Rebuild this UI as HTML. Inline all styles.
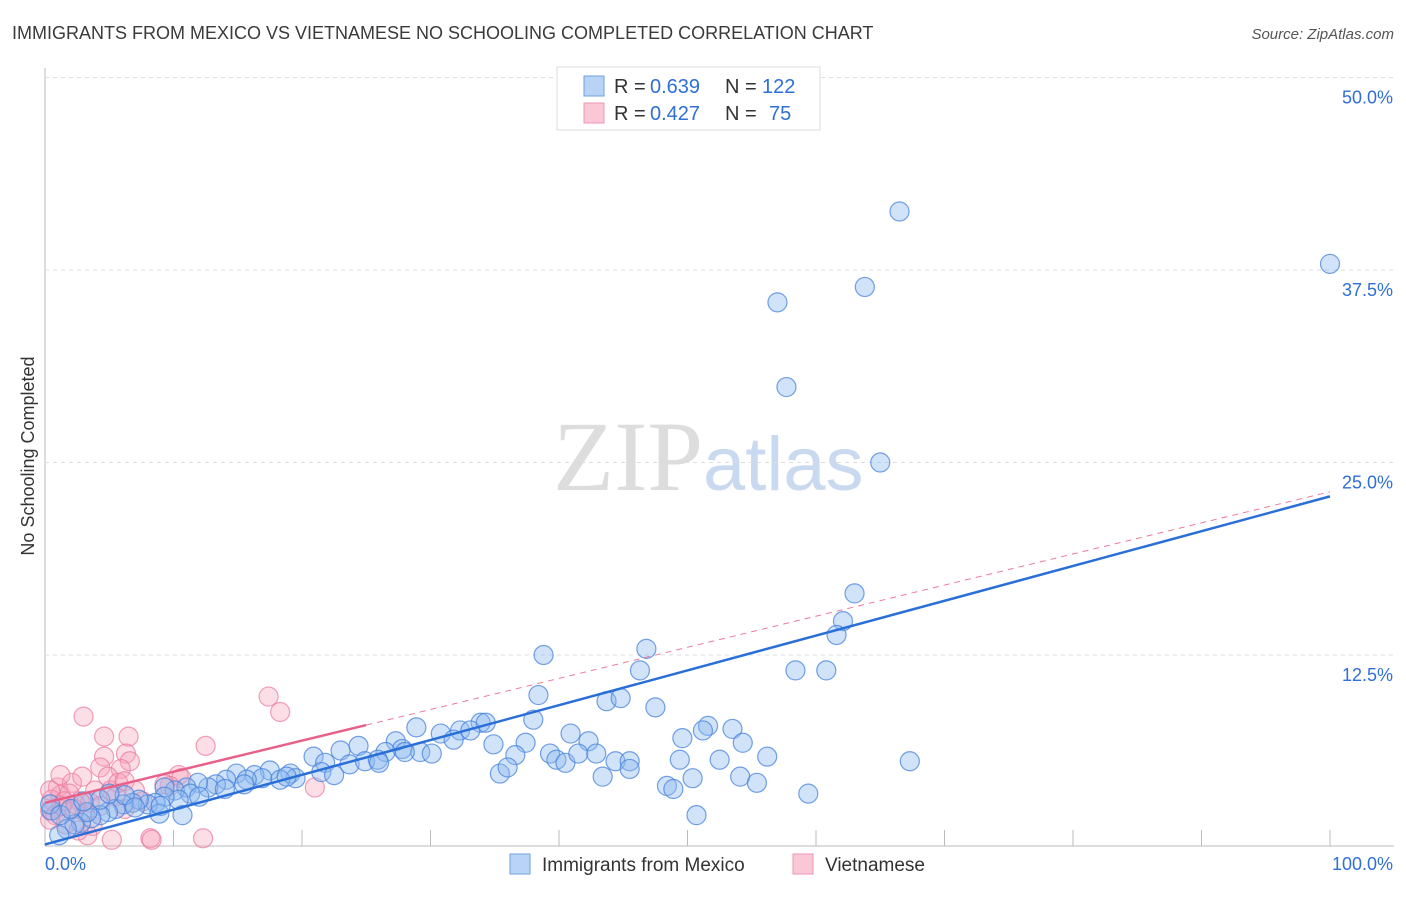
<!DOCTYPE html>
<html><head><meta charset="utf-8"><style>
body{margin:0;background:#fff;font-family:"Liberation Sans",sans-serif}
</style></head><body>
<svg id="chart" width="1406" height="892" xmlns="http://www.w3.org/2000/svg" font-family="Liberation Sans, sans-serif">
<text x="12" y="39" font-size="18" fill="#3a3a3a">IMMIGRANTS FROM MEXICO VS VIETNAMESE NO SCHOOLING COMPLETED CORRELATION CHART</text>
<text x="1394" y="39" font-size="15" fill="#555" text-anchor="end" font-style="italic">Source: ZipAtlas.com</text>
<text transform="translate(34,456) rotate(-90)" font-size="18" fill="#333" text-anchor="middle">No Schooling Completed</text>
<text x="553" y="490" font-size="100" fill="#ddd" font-family="Liberation Serif, serif">ZIP<tspan fill="#c8d9f0" font-family="Liberation Sans, sans-serif" font-size="76">atlas</tspan></text>
<g id="grid"></g><g id="marks"></g>
<g>
<rect x="557" y="67" width="263" height="63" fill="#fff" stroke="#ddd"/>
<rect x="584" y="76" width="20" height="20" fill="#b8d3f5" stroke="#6fa0e0"/>
<rect x="584" y="103" width="20" height="20" fill="#fac7d6" stroke="#ee97b2"/>
<text x="614" y="93" font-size="20" fill="#333">R =</text>
<text x="650" y="93" font-size="20" fill="#2f6fd6">0.639</text>
<text x="725" y="93" font-size="20" fill="#333">N =</text>
<text x="762" y="93" font-size="20" fill="#2f6fd6">122</text>
<text x="614" y="120" font-size="20" fill="#333">R =</text>
<text x="650" y="120" font-size="20" fill="#2f6fd6">0.427</text>
<text x="725" y="120" font-size="20" fill="#333">N =</text>
<text x="769" y="120" font-size="20" fill="#2f6fd6">75</text>
</g>
<g>
<rect x="510" y="854" width="20" height="20" fill="#b8d3f5" stroke="#6fa0e0"/>
<text x="542" y="871" font-size="19" fill="#333">Immigrants from Mexico</text>
<rect x="793" y="854" width="20" height="20" fill="#fac7d6" stroke="#ee97b2"/>
<text x="825" y="871" font-size="19" fill="#333">Vietnamese</text>
</g>
</svg>
<script>
const yTicks=[12.5,25,37.5,50];
const yTickLabels=["12.5%","25.0%","37.5%","50.0%"];
const xTicks=[0,10,20,30,40,50,60,70,80,90,100];
const mexX=[66.5,100,57,63.8,57.7,65,63,62.1,61.6,38.8,46.8,46.3,58.4,60.8,38.4,43.7,44.8,47.5,38,28.9,51.6,51.2,53.5,49.6,54.3,40.9,42.3,37.4,34.9,32.3,33.9,34.3,33.1,30.8,31.8,24.4,27.3,27.8,26.5,29.2,30.1,23,20.9,21.8,23.7,24.9,25.9,36.6,39.3,39.8,40.5,41.5,42.9,44.4,45.5,45.5,49.4,52.5,56.2,67.3,35.4,43.4,50.4,54.1,55.4,48.4,48.9,59.4,50.7,17.5,19.1,19.5,18.3,16.3,14.9,16.9,14.1,15.7,13.3,12.7,11.9,11,10.1,9.3,11.3,10.4,9.3,8.6,8,7.3,6.8,6.1,5.5,4.9,4.3,3.6,2.8,2.3,1.7,1.1,0.5,0.4,1.2,3.3,4.3,6.2,8.9,10.7,2,3,5,7,9,12,14,15.5,18.8,21.5,22.5,26,28,36];
const mexY=[41.3,37.9,35.4,36.4,29.9,25,16.5,14.7,13.8,12.5,12.9,11.5,11.5,11.5,9.9,9.5,9.7,9.1,8.3,7.8,7.9,7.6,7.7,7.1,6.8,7.4,6.9,6.8,6.7,7.6,8.1,8.1,7.6,7.4,7,6.6,6.9,6.4,6.2,6.2,6.1,6.3,5.9,5.5,5.4,5.6,5.7,6,6.1,5.7,5.5,6.1,6.1,5.6,5.6,5.1,5.7,5.7,5.9,5.6,4.8,4.6,4.5,4.6,4.2,4,3.8,3.5,2.1,5,4.8,4.5,4.4,4.7,4.8,4.5,4.4,4.4,4.1,3.9,4.2,3.9,3.7,3.9,3.5,3.1,3.3,2.9,2.8,3.1,2.9,2.8,2.5,2.3,2.1,1.9,1.6,1.5,1.2,0.8,2.4,2.8,2.1,2.3,3.1,3.4,2.2,2.1,2.5,3,3.5,2.6,2.7,3.3,3.8,4.1,4.6,4.9,4.7,5.5,6.2,5.2];
const vieX=[3,17.4,18.3,12.5,4.6,6.5,6.3,4.6,6.6,5.9,4.3,4.9,1,2.1,2.9,3.9,5.1,5.7,6.2,1.2,1.9,2.7,3.5,4.3,0.5,0.4,0.8,1.3,2.3,3.1,0.4,1.6,21,10.4,10.6,5.5,6.2,7.6,9.7,3.7,3.3,2.6,5.2,8.2,8.3,12.3,9.3,7,1.2,0.4,1.5,2.4];
const vieY=[8.5,9.8,8.8,6.6,7.2,7.2,6.1,5.9,5.6,5.1,5.2,4.6,3.9,4.2,4.6,3.7,3.7,4.2,4.3,3.4,3.5,3,2.9,2.7,3.1,2.4,2.1,2.7,2.5,2.3,1.8,1.5,3.9,4.7,4.5,3.3,2.5,3,4,1.4,0.8,1.1,0.5,0.6,0.5,0.6,4.1,3.7,4.7,3.7,3,2.8];
const mexLine=[0.2,22.8], vieLine=[2.9,23.1];
const X=v=>45+v*12.85, Y=v=>847.5-v*15.4;
const NS="http://www.w3.org/2000/svg";
const grid=document.getElementById('grid'), marks=document.getElementById('marks');
function mk(tag,attrs,parent){const e=document.createElementNS(NS,tag);for(const k in attrs)e.setAttribute(k,attrs[k]);parent.appendChild(e);return e;}
let a=mk('line',{x1:45,y1:68,x2:45,y2:846,stroke:'#bbb'},grid);


a=mk('line',{x1:45,y1:846,x2:1394,y2:846,stroke:'#bbb'},grid);


yTicks.forEach((t,i)=>{
 const g=mk('line',{x1:45,x2:1394,y1:Y(t),y2:Y(t),stroke:'#ddd','stroke-dasharray':'4,4'},grid);
 
 
 const tx=mk('text',{x:1393,y:Y(t)+26,'font-size':18,fill:'#2f6fd6','text-anchor':'end'},grid);
 tx.textContent=yTickLabels[i];
 
 
});
xTicks.forEach(t=>{
 if(t===0)return;
 const g=mk('line',{x1:X(t),x2:X(t),y1:830,y2:846,stroke:'#bbb'},grid);
 
 
});
let t0=mk('text',{x:45,y:870,'font-size':18,fill:'#2f6fd6'},grid);t0.textContent='0.0%';


let t1=mk('text',{x:1393,y:870,'font-size':18,fill:'#2f6fd6','text-anchor':'end'},grid);t1.textContent='100.0%';


vieX.forEach((x,i)=>{
 const c=mk('circle',{cx:X(x),cy:Y(vieY[i]),r:9.5,fill:'rgba(245,160,185,0.35)',stroke:'rgba(235,120,155,0.7)','stroke-width':1.2},marks);
 
 
});
mexX.forEach((x,i)=>{
 const c=mk('circle',{cx:X(x),cy:Y(mexY[i]),r:9.5,fill:'rgba(140,185,240,0.4)',stroke:'rgba(70,130,220,0.75)','stroke-width':1.2},marks);
 
 
});
let l=mk('line',{x1:X(25),y1:Y(vieLine[0]+(vieLine[1]-vieLine[0])*0.25),x2:X(100),y2:Y(vieLine[1]),stroke:'#ec7b9c','stroke-width':1,'stroke-dasharray':'6,5'},marks);


l=mk('line',{x1:X(0),y1:Y(vieLine[0]),x2:X(25),y2:Y(vieLine[0]+(vieLine[1]-vieLine[0])*0.25),stroke:'#e8608a','stroke-width':2.5},marks);


l=mk('line',{x1:X(0),y1:Y(mexLine[0]),x2:X(100),y2:Y(mexLine[1]),stroke:'#2a6fd8','stroke-width':2.5},marks);


</script>
</body></html>
